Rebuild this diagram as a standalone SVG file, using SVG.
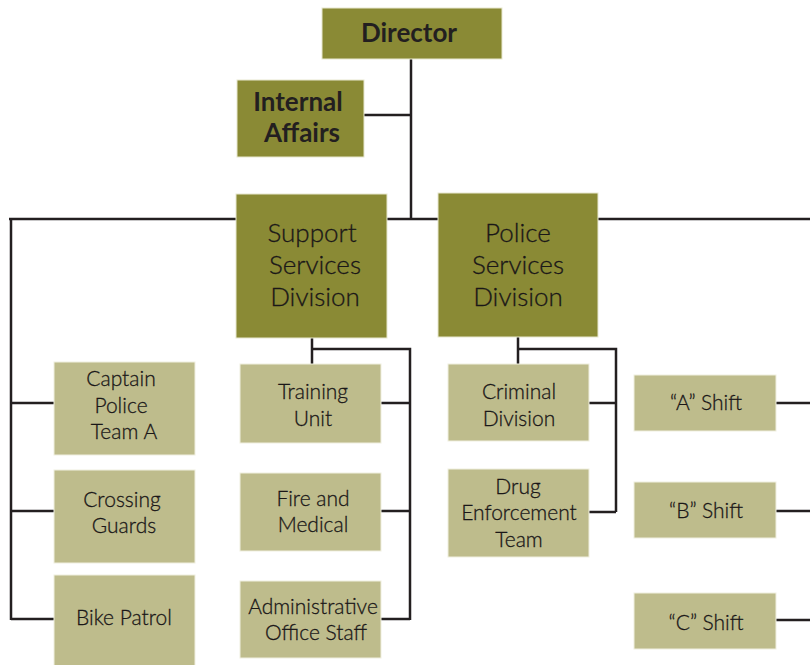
<svg xmlns="http://www.w3.org/2000/svg" width="810" height="665" viewBox="0 0 810 665">
<style>
.dk{fill:#8A8A35;stroke:#E8E8D0;stroke-width:1}
.lt{fill:#BEBC8C;stroke:#F0EFE0;stroke-width:1}
.hd{font-family:Lato,"Open Sans",sans-serif;font-weight:700;font-size:26px;fill:#231F20;text-anchor:middle}
.dv{font-family:Lato,"Open Sans",sans-serif;font-weight:300;font-size:26px;fill:#1A1718;stroke:#1A1718;stroke-width:0.3;text-anchor:middle}
.sm{font-family:Lato,"Open Sans",sans-serif;font-weight:300;font-size:21px;fill:#1A1718;stroke:#1A1718;stroke-width:0.3;text-anchor:middle}
.ln{fill:none;stroke:#231F20;stroke-width:2.5}
</style>
<rect width="810" height="665" fill="#fff"/>
<g id="connectors" class="ln">
<path d="M411 58V219"/>
<path d="M364 115H411"/>
<path d="M9 219H810"/>
<path d="M11 219V620"/>
<path d="M11 403H54M11 511H54M11 619H54"/>
<path d="M312 338V365M312 349H410V620M381 403H410M381 511H410M381 619H410"/>
<path d="M518 337V365M518 349H616V512M589 403H616M589 512H616"/>
<path d="M776 403H810M776 511H810M776 620H810"/>
</g>
<g id="director"><rect class="dk" x="322" y="8" width="180" height="51"/><text class="hd" x="409" y="42">Director</text></g>
<g id="internal-affairs"><rect class="dk" x="237" y="80" width="127" height="77"/><text class="hd" x="298" y="111">Internal</text><text class="hd" x="302" y="142">Affairs</text></g>
<g id="support-services"><rect class="dk" x="236" y="194" width="151" height="144"/><text class="dv" x="312" y="242">Support</text><text class="dv" x="315" y="274">Services</text><text class="dv" x="315" y="306">Division</text></g>
<g id="police-services"><rect class="dk" x="438" y="193" width="160" height="144"/><text class="dv" x="518" y="242">Police</text><text class="dv" x="518" y="274">Services</text><text class="dv" x="518" y="306">Division</text></g>
<g id="captain"><rect class="lt" x="54" y="362" width="141" height="93"/><text class="sm" x="121" y="386">Captain</text><text class="sm" x="121" y="413">Police</text><text class="sm" x="124" y="439">Team A</text></g>
<g id="crossing"><rect class="lt" x="54" y="470" width="141" height="93"/><text class="sm" x="122" y="507">Crossing</text><text class="sm" x="124" y="533">Guards</text></g>
<g id="bike"><rect class="lt" x="54" y="575" width="141" height="93"/><text class="sm" x="124" y="625">Bike Patrol</text></g>
<g id="training"><rect class="lt" x="240" y="364" width="141" height="79"/><text class="sm" x="313" y="399">Training</text><text class="sm" x="313" y="426">Unit</text></g>
<g id="fire"><rect class="lt" x="240" y="473" width="141" height="78"/><text class="sm" x="313" y="506">Fire and</text><text class="sm" x="313" y="532">Medical</text></g>
<g id="admin"><rect class="lt" x="240" y="581" width="141" height="77"/><text class="sm" x="313" y="614">Administrative</text><text class="sm" x="316" y="640">Office Staff</text></g>
<g id="criminal"><rect class="lt" x="448" y="364" width="141" height="77"/><text class="sm" x="519" y="399">Criminal</text><text class="sm" x="519" y="426">Division</text></g>
<g id="drug"><rect class="lt" x="448" y="469" width="141" height="88"/><text class="sm" x="518" y="494">Drug</text><text class="sm" x="519" y="520">Enforcement</text><text class="sm" x="519" y="547">Team</text></g>
<g id="shift-a"><rect class="lt" x="634" y="375" width="142" height="56"/><text class="sm" x="706" y="410">“A” Shift</text></g>
<g id="shift-b"><rect class="lt" x="634" y="482" width="142" height="56"/><text class="sm" x="706" y="518">“B” Shift</text></g>
<g id="shift-c"><rect class="lt" x="634" y="593" width="142" height="56"/><text class="sm" x="706" y="630">“C” Shift</text></g>
</svg>
